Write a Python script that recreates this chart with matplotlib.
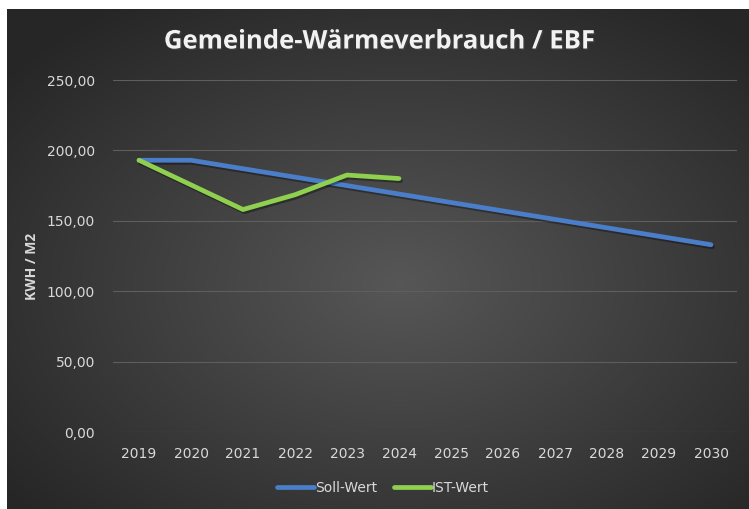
import matplotlib.pyplot as plt
import matplotlib.patheffects as pe
import numpy as np

# data
years = [2019, 2020, 2021, 2022, 2023, 2024, 2025, 2026, 2027, 2028, 2029, 2030]
soll_wert = [193, 193, 187, 181, 175, 169, 163, 157, 151, 145, 139, 133]
ist_years = [2019, 2020, 2021, 2022, 2023, 2024]
ist_wert = [193, 175.5, 158, 168.5, 182.5, 180]
y_ticks = [0, 50, 100, 150, 200, 250]

W, H = 749, 509
fig = plt.figure(figsize=(W / 100, H / 100), dpi=100)
fig.patch.set_facecolor('white')

# dark radial background of the chart area (starts 7px from left, 9px from top)
bg = fig.add_axes([7 / W, 0, 1 - 7 / W, 1 - 9 / H])
gx, gy = np.meshgrid(np.linspace(0, 1, 400), np.linspace(0, 1, 300))
dist = np.sqrt(((gx - 0.53) / 0.75) ** 2 + ((gy - 0.45) / 0.75) ** 2)
shade = np.clip(0.34 - 0.21 * dist, 0.15, 0.34)
bg.imshow(np.dstack([shade] * 3), aspect='auto', extent=[0, 1, 0, 1], origin='lower')
bg.axis('off')

ax = fig.add_axes([113 / W, (H - 432) / H, (737 - 113) / W, (432 - 80) / H])
ax.set_facecolor('none')

shadow = [pe.SimpleLineShadow(offset=(1, -1.5), alpha=0.35, shadow_color='black'), pe.Normal()]
ax.plot(years, soll_wert, color='#4a7ec8', lw=3.4, solid_capstyle='round',
        solid_joinstyle='round', label='Soll-Wert', path_effects=shadow)
ax.plot(ist_years, ist_wert, color='#8fd14f', lw=3.4, solid_capstyle='round',
        solid_joinstyle='round', label='IST-Wert', path_effects=shadow)

ax.set_xlim(2018.5, 2030.5)
ax.set_ylim(0, 250)
ax.set_xticks(years)
ax.set_yticks(y_ticks)
ax.set_yticklabels([f'{v:.2f}'.replace('.', ',') for v in y_ticks])
ax.grid(axis='y', color='#5e5e5e', lw=0.8)
ax.set_axisbelow(True)
for s in ax.spines.values():
    s.set_visible(False)
ax.tick_params(length=0, colors='#d9d9d9', labelsize=10)
ax.tick_params(axis='x', pad=11)
ax.tick_params(axis='y', pad=13)

fig.text(32 / W, 1 - 266 / H, 'KWH / M2', rotation=90, ha='center', va='center',
         color='#d9d9d9', fontsize=10, fontweight='bold', family='Open Sans')

fig.text(380 / W, 1 - 41 / H, 'Gemeinde-Wärmeverbrauch / EBF', ha='center', va='center',
         color='#f2f2f2', fontsize=18.5, fontweight='bold', family='Open Sans',
         path_effects=[pe.withSimplePatchShadow(offset=(1, -1), alpha=0.5)])

leg = fig.legend(loc='center', bbox_to_anchor=(383 / W, 1 - 488 / H), ncol=2, frameon=False,
                 handlelength=2.7, handletextpad=0.05, columnspacing=1.2,
                 prop={'size': 10})
for t in leg.get_texts():
    t.set_color('#d9d9d9')
for h in leg.get_lines():
    h.set_path_effects([])

fig.savefig('out.png', dpi=100, facecolor=fig.get_facecolor())
